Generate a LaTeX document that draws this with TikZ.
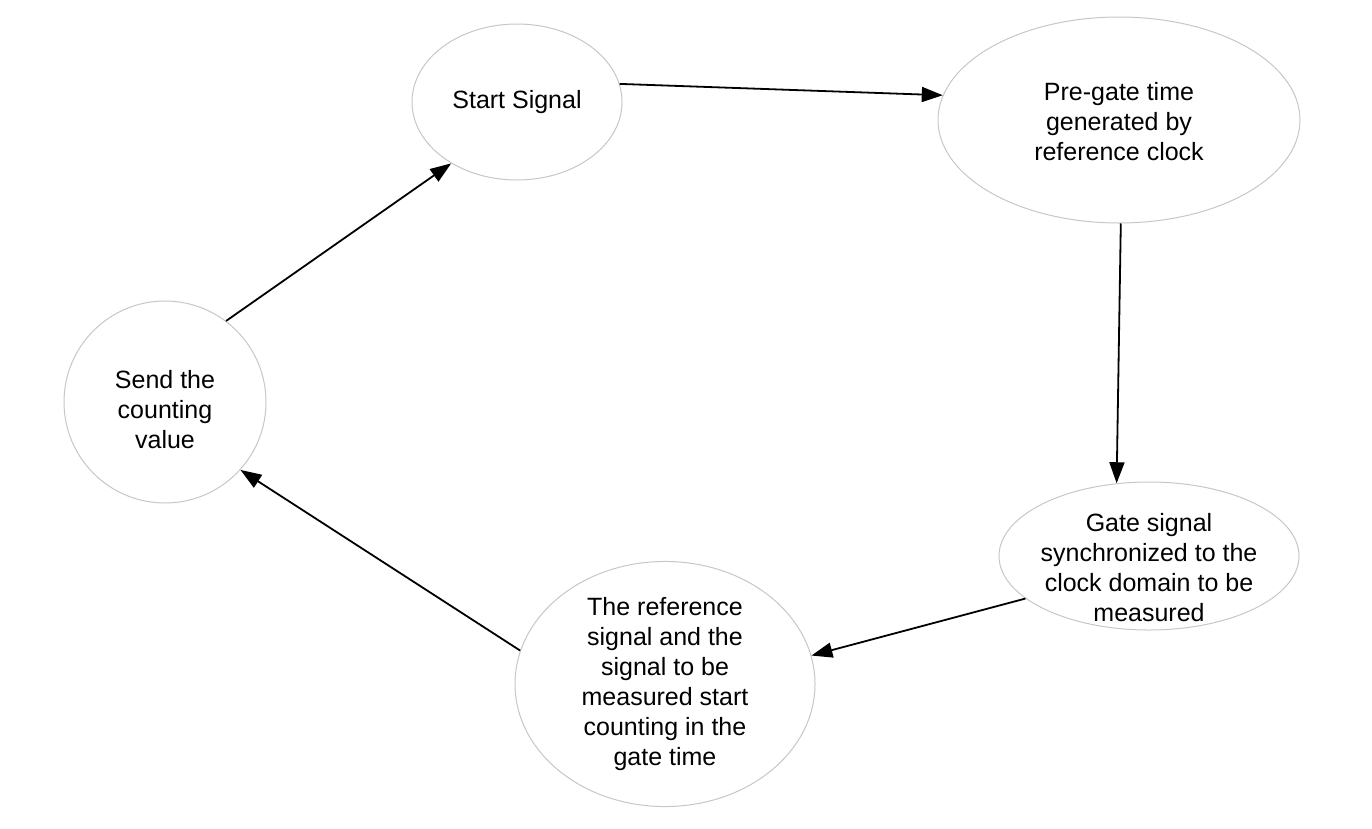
\documentclass[tikz,border=0pt]{standalone}
\usepackage{fontspec}
\setmainfont{Liberation Sans}
\usetikzlibrary{shapes.geometric,arrows.meta}
\begin{document}
\begin{tikzpicture}[x=1pt,y=-1pt,
  state/.style={ellipse, draw=black!22, line width=1pt, fill=white, inner sep=0pt, align=center, font=\fontsize{25}{30}\selectfont},
  txt/.style={align=center, font=\fontsize{25}{30}\selectfont, inner sep=0pt},
  flow/.style={line width=1.8pt, -{Triangle[length=21pt,width=15pt]}}]
\useasboundingbox (0,0) rectangle (1372,828);
\node[state, minimum width=210pt, minimum height=156pt] (start) at (517,102) {Start Signal};
\node[state, minimum width=362pt, minimum height=206pt] (pre) at (1119,120) {};
\node[txt] (pretxt) at (1119,122) {Pre-gate time\\generated by\\reference clock};
\node[state, minimum width=202pt, minimum height=202pt] (send) at (165,402) {};
\node[txt] (sendtxt) at (165,410) {Send the\\counting\\value};
\node[state, minimum width=300pt, minimum height=148pt] (gate) at (1149,556) {};
\node[txt] (gatetxt) at (1149,568) {Gate signal\\synchronized to the\\clock domain to be\\measured};
\node[state, minimum width=300pt, minimum height=226pt] (ref) at (665,684) {The reference\\signal and the\\signal to be\\measured start\\counting in the\\gate time};
\draw[flow] (start.10.8) -- (pre.172);
\draw[flow] (pre.271) -- (gate.114);
\draw[flow] (gate.199.5) -- (ref.11);
\draw[flow] (ref.167.5) -- (send.-42);
\draw[flow] (send.53) -- (start.223);
\end{tikzpicture}
\end{document}
